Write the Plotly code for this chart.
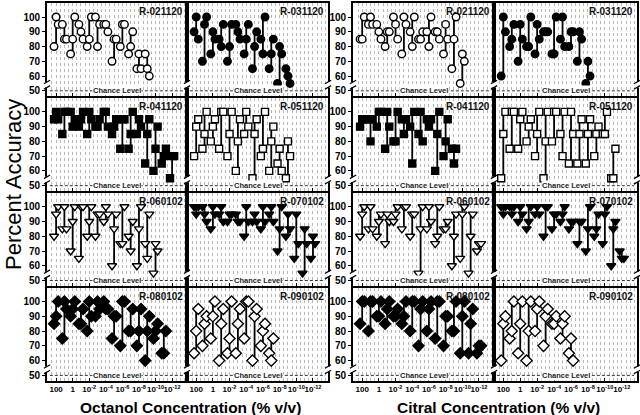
import plotly.graph_objects as go

# ---------------- data ----------------
# x positions: index of concentration, 0 = 100 %, 1 = 10 %, 2 = 1 %, ... 14 = 1e-12 %
TICK_POS = [0, 2, 4, 6, 8, 10, 12, 14]
TICK_LABELS = ["100", "1", "10<sup>-2</sup>", "10<sup>-4</sup>", "10<sup>-6</sup>",
               "10<sup>-8</sup>", "10<sup>-10</sup>", "10<sup>-12</sup>"]
RAT_IDS = ["R-021120", "R-031120", "R-041120", "R-051120",
           "R-060102", "R-070102", "R-080102", "R-090102"]
PANEL_TITLES = ["Octanol Concentration (% v/v)", "Citral Concentration (% v/v)"]

# each entry: three session accuracies (%) at successive concentrations
OCT_R021120 = [[80, 100, 95], [95, 85, 85], [75, 85, 100], [95, 90, 85], [80, 85, 100], [100, 80, 95],
               [95, 95, 90], [70, 85, 85], [80, 95, 95], [75, 80, 90], [65, 75, 65], [75, 65, 60]]
OCT_R031120 = [[90, 100, 85], [70, 95, 100], [75, 90, 85], [85, 80, 95], [70, 80, 95], [95, 90, 85],
               [75, 85, 95], [65, 80, 90], [85, 75, 100], [65, 75, 85], [55, 80, 75], [65, 60, 55]]
OCT_R041120 = [[95, 100, 95], [85, 100, 100], [100, 90, 95], [90, 95, 100], [85, 100, 95], [90, 90, 95],
               [100, 100, 90], [85, 90, 95], [75, 95, 95], [75, 85, 100], [85, 95, 90], [65, 85, 95],
               [60, 75, 90], [65, 70, 75], [55, 70, 70]]
OCT_R051120 = [[70, 90, 95], [75, 85, 100], [80, 90, 95], [75, 100, 100], [70, 85, 100], [60, 80, 95],
               [85, 100, 90], [55, 85, 95], [70, 75, 100], [60, 80, 90], [65, 75, 60], [55, 80, 70]]
OCT_R060102 = [[80, 95, 100], [85, 100, 85], [70, 90, 100], [65, 100, 100], [80, 90, 100], [80, 95, 95],
               [90, 100, 95], [60, 85, 95], [75, 75, 100], [80, 70, 90], [60, 85, 100], [75, 65, 95],
               [55, 75, 70]]
OCT_R070102 = [[100, 95, 100], [100, 95, 90], [85, 100, 95], [95, 100, 90], [90, 95, 95], [95, 90, 90],
               [80, 100, 90], [90, 95, 90], [85, 100, 90], [95, 100, 90], [70, 85, 100], [80, 95, 85],
               [65, 95, 75], [55, 85, 75], [65, 80, 75]]
OCT_R080102 = [[85, 90, 100], [75, 100, 95], [90, 95, 100], [85, 85, 95], [80, 100, 90], [90, 100, 95],
               [100, 95, 95], [75, 90, 90], [70, 100, 100], [80, 80, 95], [70, 80, 95], [60, 80, 90],
               [75, 80, 85], [65, 65, 80]]
OCT_R090102 = [[65, 80, 95], [70, 85, 90], [75, 90, 100], [60, 85, 95], [65, 75, 100], [65, 85, 95],
               [75, 100, 100], [60, 90, 95], [70, 80, 85], [65, 60, 75]]

CIT_R021120 = [[85, 85, 100], [95, 100, 95], [95, 90, 85], [80, 90, 90], [100, 95, 85], [75, 100, 95],
               [90, 80, 100], [85, 85, 90], [90, 80, 100], [90, 90, 85], [75, 95, 85], [65, 85, 100],
               [55, 75, 70]]
CIT_R031120 = [[60, 100, 90], [80, 85, 95], [70, 95, 85], [80, 80, 100], [75, 95, 85], [90, 90, 90],
               [75, 75, 100], [85, 100, 80], [80, 90, 90], [70, 90, 85], [55, 70, 60]]
CIT_R041120 = [[90, 95, 95], [95, 80, 95], [90, 100, 100], [75, 100, 90], [80, 80, 100], [95, 85, 95],
               [90, 65, 100], [85, 100, 80], [95, 90, 95], [60, 85, 100], [70, 80, 95], [75, 65, 75]]
CIT_R051120 = [[55, 85, 100], [75, 100, 100], [75, 95, 100], [80, 90, 95], [70, 85, 100], [55, 80, 100],
               [80, 100, 100], [85, 70, 100], [65, 100, 85], [65, 85, 95], [65, 85, 95], [70, 85, 90],
               [85, 85, 100], [55, 55, 75]]
CIT_R060102 = [[80, 95, 100], [85, 100, 85], [80, 90, 95], [75, 95, 90], [90, 95, 100], [85, 100, 100],
               [80, 95, 95], [55, 85, 100], [85, 100, 90], [75, 80, 100], [85, 85, 90], [60, 80, 95],
               [65, 95, 100], [55, 80, 95], [70, 75, 75]]
CIT_R070102 = [[100, 95, 100], [100, 95, 100], [90, 100, 95], [85, 90, 100], [95, 100, 95], [80, 100, 100],
               [85, 95, 95], [90, 95, 100], [85, 90, 90], [75, 90, 90], [70, 85, 100], [80, 85, 95],
               [75, 95, 100], [60, 85, 90], [70, 65, 65]]
CIT_R080102 = [[85, 100, 100], [80, 100, 100], [90, 90, 100], [85, 95, 100], [90, 90, 95], [85, 90, 100],
               [80, 100, 100], [70, 95, 100], [80, 95, 100], [75, 100, 100], [70, 90, 90], [80, 80, 100],
               [65, 90, 100], [65, 85, 95], [65, 70, 70]]
CIT_R090102 = [[60, 85, 90], [75, 80, 100], [65, 85, 100], [60, 80, 100], [80, 95, 100], [70, 90, 95],
               [85, 85, 90], [75, 85, 90], [65, 75, 60]]

PANELS = [
    [OCT_R021120, OCT_R031120, OCT_R041120, OCT_R051120,
     OCT_R060102, OCT_R070102, OCT_R080102, OCT_R090102],
    [CIT_R021120, CIT_R031120, CIT_R041120, CIT_R051120,
     CIT_R060102, CIT_R070102, CIT_R080102, CIT_R090102],
]

# ---------------- styles ----------------
W, H = 640, 415
SYMBOLS = ["circle", "circle", "square", "square",
           "triangle-down", "triangle-down", "diamond", "diamond"]
FILLS = ["white", "black", "black", "white", "white", "black", "black", "white"]
SIZES = [7.5, 7.5, 7, 7, 8, 8, 8.5, 8.5]
JITTER = [-0.25, 0.0, 0.25]
COL_PX = [[(47, 187), (187, 328)], [(353, 494), (494, 637)]]
ROW_TOP0, ROW_STEP, ROW_H = 3, 94.85, 93
YR = [46.5, 109.5]
XR = [-1.1, 15.8]
FONT = "Liberation Sans, Arial, sans-serif"
NARROW = "Liberation Sans Narrow, Liberation Sans, Arial, sans-serif"

fig = go.Figure()
layout = dict(width=W, height=H, margin=dict(l=0, r=0, t=0, b=0),
              paper_bgcolor="white", plot_bgcolor="white", showlegend=False)
shapes, annotations = [], []

for p in range(2):
    for k in range(8):
        r, c = divmod(k, 2)
        idx = p * 8 + k + 1
        xa = "x" if idx == 1 else f"x{idx}"
        ya = "y" if idx == 1 else f"y{idx}"
        data = PANELS[p][k]
        # vertical range lines
        lx, ly = [], []
        for i, vals in enumerate(data):
            lx += [i, i, None]
            ly += [min(vals), max(vals), None]
        fig.add_trace(go.Scatter(x=lx, y=ly, mode="lines", xaxis=xa, yaxis=ya,
                                 line=dict(color="black", width=1.8), hoverinfo="skip"))
        mx, my = [], []
        for i, vals in enumerate(data):
            for j, v in enumerate(vals):
                mx.append(i + JITTER[j])
                my.append(v)
        fig.add_trace(go.Scatter(x=mx, y=my, mode="markers", xaxis=xa, yaxis=ya,
                                 marker=dict(symbol=SYMBOLS[k], size=SIZES[k], color=FILLS[k],
                                             line=dict(color="black", width=1.4))))
        x0, x1 = COL_PX[p][c]
        top = ROW_TOP0 + r * ROW_STEP
        bot = top + ROW_H
        bottom_row = (r == 3)
        layout["xaxis" if idx == 1 else f"xaxis{idx}"] = dict(
            domain=[x0 / W, x1 / W], range=XR, anchor=ya,
            showline=True, mirror=True, linecolor="black", linewidth=1.8,
            tickmode="array", tickvals=TICK_POS, ticktext=TICK_LABELS, tickangle=0,
            showticklabels=bottom_row, ticks="inside", ticklen=3, tickcolor="black",
            tickfont=dict(family=FONT, size=8, color="black", weight="bold"),
            showgrid=True, gridcolor="#b8b8b8", griddash="dot", gridwidth=1,
            minor=dict(tickmode="linear", tick0=0, dtick=0.5, showgrid=True,
                       gridcolor="#b8b8b8", griddash="dot", gridwidth=1,
                       ticks="", ticklen=0),
            zeroline=False, fixedrange=True)
        layout["yaxis" if idx == 1 else f"yaxis{idx}"] = dict(
            domain=[1 - bot / H, 1 - top / H], range=YR, anchor=xa,
            showline=True, mirror=True, linecolor="black", linewidth=1.8,
            tickmode="array", tickvals=[50, 60, 70, 80, 90, 100],
            showticklabels=(c == 0), ticks=("outside" if c == 0 else ""), ticklen=3,
            tickcolor="black", tickfont=dict(family=FONT, size=10, color="black", weight="bold"),
            showgrid=False, zeroline=False, fixedrange=True)
        # chance level
        shapes.append(dict(type="line", xref=f"{xa} domain", yref=ya, x0=0.02, x1=0.98, y0=50, y1=50,
                           line=dict(color="#333", width=1, dash="3px,2px"), layer="above"))
        annotations.append(dict(text="Chance Level", xref=f"{xa} domain", yref=ya, x=0.5, y=50,
                                showarrow=False, bgcolor="white", borderpad=0,
                                font=dict(family=FONT, size=7.5, color="#222", weight="bold")))
        annotations.append(dict(text=RAT_IDS[k], xref=f"{xa} domain", yref=f"{ya} domain",
                                x=0.985, y=0.985, xanchor="right", yanchor="top", showarrow=False,
                                font=dict(family=NARROW, size=10, color="#111", weight="bold")))
        # axis break marks on vertical frame lines
        for ex in ([0.0, 1.0] if c == 0 else [1.0]):
            shapes.append(dict(type="rect", xref=f"{xa} domain", yref=ya, x0=ex - 0.018, x1=ex + 0.018,
                               y0=52.3, y1=56, fillcolor="white", line=dict(width=0), layer="above"))
            for yy in (52.3, 56):
                shapes.append(dict(type="line", xref=f"{xa} domain", yref=ya,
                                   x0=ex - 0.022, x1=ex + 0.022, y0=yy - 1.2, y1=yy + 1.2,
                                   line=dict(color="black", width=1.3), layer="above"))

for p in range(2):
    cx = (COL_PX[p][0][0] + COL_PX[p][1][1]) / 2 / W
    annotations.append(dict(text=PANEL_TITLES[p], xref="paper", yref="paper", x=cx + 0.005,
                            y=(H - 407) / H, xanchor="center", yanchor="middle", showarrow=False,
                            font=dict(family=FONT, size=15.5, color="black", weight="bold")))
annotations.append(dict(text="Percent Accuracy", xref="paper", yref="paper", x=13 / W,
                        y=1 - 185 / H, textangle=-90, xanchor="center", yanchor="middle",
                        showarrow=False, font=dict(family=FONT, size=22, color="black")))

layout["shapes"] = shapes
layout["annotations"] = annotations
fig.update_layout(**layout)
fig.write_html("out.html", config={"displayModeBar": False},
               post_script="document.body.style.margin='0';")
